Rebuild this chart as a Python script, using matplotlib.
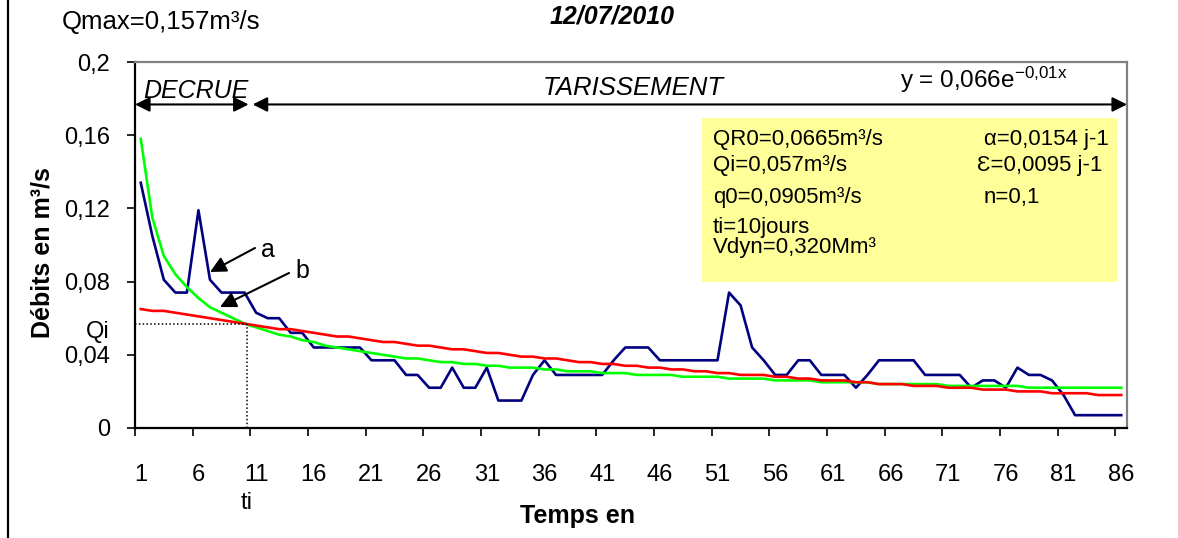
import matplotlib
matplotlib.use("Agg")
import matplotlib.pyplot as plt
from matplotlib.lines import Line2D
from matplotlib.patches import Rectangle

plt.rcParams['font.family'] = ['Liberation Sans', 'DejaVu Sans']
plt.rcParams['mathtext.fontset'] = 'custom'
plt.rcParams['mathtext.rm'] = 'Liberation Sans'
plt.rcParams['mathtext.it'] = 'Liberation Sans:italic'
plt.rcParams['axes.unicode_minus'] = False

# days 1..86
days = list(range(1, 87))

# observed discharge (a)
q_obs = [0.134, 0.105, 0.081, 0.074, 0.074, 0.119, 0.081, 0.074, 0.074, 0.074,
         0.063, 0.060, 0.060, 0.052, 0.052, 0.044, 0.044, 0.044, 0.044, 0.044,
         0.037, 0.037, 0.037, 0.029, 0.029, 0.022, 0.022, 0.033, 0.022, 0.022,
         0.033, 0.015, 0.015, 0.015, 0.029, 0.037, 0.029, 0.029, 0.029, 0.029,
         0.029, 0.037, 0.044, 0.044, 0.044, 0.037, 0.037, 0.037, 0.037, 0.037,
         0.037, 0.074, 0.067, 0.044, 0.037, 0.029, 0.029, 0.037, 0.037, 0.029,
         0.029, 0.029, 0.022, 0.029, 0.037, 0.037, 0.037, 0.037, 0.029, 0.029,
         0.029, 0.029, 0.022, 0.026, 0.026, 0.022, 0.033, 0.029, 0.029, 0.026,
         0.018, 0.007, 0.007, 0.007, 0.007, 0.007]

# decrue model (b)
q_decrue = [0.158, 0.115, 0.094, 0.084, 0.077, 0.071, 0.066, 0.063, 0.060, 0.057,
            0.055, 0.053, 0.051, 0.050, 0.048, 0.047, 0.045, 0.044, 0.043, 0.042,
            0.041, 0.040, 0.039, 0.038, 0.038, 0.037, 0.036, 0.036, 0.035, 0.035,
            0.034, 0.034, 0.033, 0.033, 0.033, 0.032, 0.032, 0.031, 0.031, 0.031,
            0.030, 0.030, 0.030, 0.029, 0.029, 0.029, 0.029, 0.028, 0.028, 0.028,
            0.028, 0.027, 0.027, 0.027, 0.027, 0.026, 0.026, 0.026, 0.026, 0.025,
            0.025, 0.025, 0.025, 0.025, 0.024, 0.024, 0.024, 0.024, 0.024, 0.024,
            0.023, 0.023, 0.023, 0.023, 0.023, 0.023, 0.023, 0.022, 0.022, 0.022,
            0.022, 0.022, 0.022, 0.022, 0.022, 0.022]

# tarissement (exponential fit)
q_taris = [0.065, 0.064, 0.064, 0.063, 0.062, 0.061, 0.060, 0.059, 0.058, 0.057,
           0.056, 0.055, 0.054, 0.054, 0.053, 0.052, 0.051, 0.050, 0.050, 0.049,
           0.048, 0.047, 0.047, 0.046, 0.045, 0.045, 0.044, 0.043, 0.043, 0.042,
           0.041, 0.041, 0.040, 0.039, 0.039, 0.038, 0.038, 0.037, 0.036, 0.036,
           0.035, 0.035, 0.034, 0.034, 0.033, 0.033, 0.032, 0.032, 0.031, 0.031,
           0.030, 0.030, 0.029, 0.029, 0.029, 0.028, 0.028, 0.027, 0.027, 0.026,
           0.026, 0.026, 0.025, 0.025, 0.024, 0.024, 0.024, 0.023, 0.023, 0.023,
           0.022, 0.022, 0.022, 0.021, 0.021, 0.021, 0.020, 0.020, 0.020, 0.019,
           0.019, 0.019, 0.019, 0.018, 0.018, 0.018]

y_ticks = [0, 0.04, 0.08, 0.12, 0.16, 0.2]
y_labels = ["0", "0,04", "0,08", "0,12", "0,16", "0,2"]
x_labels = [str(d) for d in range(1, 87, 5)]

ti = 10.2
qi = 0.057

W, H = 1178, 538
fig = plt.figure(figsize=(W / 100, H / 100), dpi=100)
ax = fig.add_axes([135 / W, 1 - 428 / H, 992 / W, 366 / H])

ax.plot(days, q_obs, color='#000080', lw=1.9, zorder=3)
ax.plot(days, q_decrue, color='#00FF00', lw=1.9, zorder=4)
ax.plot(days, q_taris, color='#FF0000', lw=1.9, zorder=5)

ax.set_xlim(0.5, 86.5)
ax.set_ylim(0, 0.2)
ax.set_yticks(y_ticks)
ax.set_yticklabels(y_labels)
ax.set_xticks([d + 0.5 for d in range(0, 86, 5)])
ax.set_xticklabels([])
ax.set_xticks(list(range(1, 87, 5)), minor=True)
ax.set_xticklabels(x_labels, minor=True)
ax.tick_params(axis='x', which='major', length=6, width=1.2, direction='out')
ax.tick_params(axis='x', which='minor', length=0, pad=26, labelsize=17)
ax.tick_params(axis='y', length=6, width=1.2, pad=12, labelsize=17)

for s in ['left', 'bottom']:
    ax.spines[s].set_color('black')
    ax.spines[s].set_linewidth(1.6)
for s in ['top', 'right']:
    ax.spines[s].set_color('#808080')
    ax.spines[s].set_linewidth(1.6)

# Qi / ti guide lines
ax.plot([0.5, ti], [qi, qi], color='black', lw=1.1, ls=(0, (1, 1.5)), zorder=6)
ax.plot([ti, ti], [0, qi], color='black', lw=1.1, ls=(0, (1, 1.5)), zorder=6)

# DECRUE / TARISSEMENT arrows
y_arr = 0.1768
ax.annotate('', xy=(0.5, y_arr), xytext=(10.35, y_arr),
            arrowprops=dict(arrowstyle='<|-|>', color='black', lw=1.5,
                            mutation_scale=22, shrinkA=0, shrinkB=0))
ax.annotate('', xy=(10.7, y_arr), xytext=(86.5, y_arr),
            arrowprops=dict(arrowstyle='<|-|>', color='black', lw=1.5,
                            mutation_scale=22, shrinkA=0, shrinkB=0))


def fp(x, y):
    return (x / W, 1 - y / H)


fig.text(*fp(143, 91), 'DECRUE', style='italic', fontsize=18, va='center', ha='left')
fig.text(*fp(633, 88), 'TARISSEMENT', style='italic', fontsize=18.5, va='center', ha='center')
fig.text(*fp(900, 80), r'y = 0,066e$^{\mathregular{-0{,}01x}}$', fontsize=17.5,
         va='center', ha='left')

# a / b arrows (figure pixel positions)
fig.add_artist(plt.Annotation('', xy=fp(210, 272), xytext=fp(255, 248),
                              xycoords='figure fraction', textcoords='figure fraction',
                              arrowprops=dict(arrowstyle='-|>', color='black', lw=1.5,
                                              mutation_scale=24, shrinkA=0, shrinkB=0)))
fig.add_artist(plt.Annotation('', xy=fp(220, 307), xytext=fp(289, 273),
                              xycoords='figure fraction', textcoords='figure fraction',
                              arrowprops=dict(arrowstyle='-|>', color='black', lw=1.5,
                                              mutation_scale=24, shrinkA=0, shrinkB=0)))
fig.text(*fp(268, 250), 'a', fontsize=18, ha='center', va='center')
fig.text(*fp(302, 271), 'b', fontsize=18, ha='center', va='center')

# parameter box
fig.add_artist(Rectangle(fp(702, 282), 415 / W, 164 / H, transform=fig.transFigure,
                         facecolor='#FFFF99', edgecolor='none', zorder=2))
left_lines = [('QR0=0,0665m³/s', 139), ('Qi=0,057m³/s', 165), ('q0=0,0905m³/s', 198),
              ('ti=10jours', 228), ('Vdyn=0,320Mm³', 248)]
for txt, yy in left_lines:
    fig.text(*fp(713, yy), txt, fontsize=16, ha='left', va='center', zorder=3)
right_lines = [('α=0,0154 j-1', 984, 139), ('Ɛ=0,0095 j-1', 977, 165), ('n=0,1', 984, 198)]
for txt, xx, yy in right_lines:
    fig.text(*fp(xx, yy), txt, fontsize=16, ha='left', va='center', zorder=3)

# outside labels
fig.text(*fp(62, 22), 'Qmax=0,157m³/s', fontsize=18.5, ha='left', va='center')
fig.text(*fp(612, 16), '12/07/2010', fontsize=18, fontweight='bold', style='italic',
         ha='center', va='center')
fig.text(*fp(43, 253), 'Débits en m³/s', fontsize=18, fontweight='bold', rotation=90,
         ha='center', va='center')
fig.text(*fp(577, 516), 'Temps en', fontsize=18, fontweight='bold', ha='center', va='center')
fig.text(*fp(247, 503), 'ti', fontsize=17, ha='center', va='center')
fig.text(*fp(110, 332), 'Qi', fontsize=17, ha='right', va='center')

fig.add_artist(Line2D([8 / W, 8 / W], [0, 1], color='black', lw=1.6))

fig.savefig('out.png', dpi=100)
